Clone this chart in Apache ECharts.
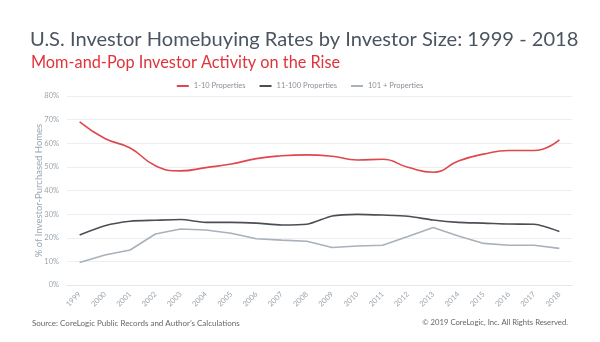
<!DOCTYPE html>
<html><head><meta charset="utf-8">
<script src="https://cdn.jsdelivr.net/npm/echarts@6/dist/echarts.min.js"></script>
<style>html,body{margin:0;padding:0;background:#fff}#c{width:600px;height:342px}</style>
</head><body><div id="c"></div>
<script>
const years = ['1999','2000','2001','2002','2003','2004','2005','2006','2007','2008','2009','2010','2011','2012','2013','2014','2015','2016','2017','2018'];
const small = [69, 62, 58, 50.5, 48.3, 49.7, 51.2, 53.5, 54.7, 55.1, 54.5, 52.9, 53.2, 49.8, 47.7, 52.5, 55.4, 56.9, 56.9, 61.4];
const mid = [21.2, 25.1, 27, 27.4, 27.7, 26.5, 26.5, 26.2, 25.4, 25.7, 29.2, 29.9, 29.6, 29.1, 27.5, 26.5, 26.2, 25.8, 25.7, 22.6];
const large = [9.5, 12.7, 14.8, 21.6, 23.7, 23.3, 21.9, 19.6, 19, 18.5, 15.9, 16.5, 16.8, 20.5, 24.3, 20.7, 17.6, 16.8, 16.8, 15.5];
const names = ['1-10 Properties', '11-100 Properties', '101 + Properties'];
const yTicks = [0, 10, 20, 30, 40, 50, 60, 70, 80];

const FONT = 'Lato, "Open Sans", sans-serif';
const chart = echarts.init(document.getElementById('c'));
chart.setOption({
  animation: false,
  textStyle: {fontFamily: FONT},
  title: [
    {text: 'U.S. Investor Homebuying Rates by Investor Size: 1999 - 2018', left: 25, top: 25,
     textStyle: {fontSize: 20.1, fontWeight: 'normal', color: '#4b5560', fontFamily: FONT}},
    {text: 'Mom-and-Pop Investor Activity on the Rise', left: 26, top: 50,
     textStyle: {fontSize: 16.3, fontWeight: 'normal', color: '#e0333b', fontFamily: FONT}},
    {text: 'Source: CoreLogic Public Records and Author\u2019s Calculations', left: 27, top: 314,
     textStyle: {fontSize: 8, fontWeight: 'normal', color: '#666', fontFamily: FONT}},
    {text: '\u00a9 2019 CoreLogic, Inc. All Rights Reserved.', right: 27, top: 314,
     textStyle: {fontSize: 7.7, fontWeight: 'normal', color: '#666', fontFamily: FONT}}
  ],
  legend: {
    top: 77, left: 'center', itemWidth: 12, itemHeight: 2, itemGap: 14,
    icon: 'rect',
    textStyle: {fontSize: 7.5, color: '#8a8f96', fontFamily: FONT},
    data: names
  },
  grid: {left: 67, right: 28, top: 96, bottom: 57},
  xAxis: {
    type: 'category', data: years, boundaryGap: true,
    axisLine: {lineStyle: {color: '#e4e7ea'}},
    axisTick: {show: false},
    axisLabel: {rotate: 45, fontSize: 7.5, color: '#9aa4ae', margin: 8, interval: 0}
  },
  yAxis: {
    type: 'value', min: 0, max: 80, interval: 10,
    name: '% of Investor-Purchased Homes', nameLocation: 'middle', nameGap: 23,
    nameMoveOverlap: false,
    nameTextStyle: {fontSize: 9.5, color: '#9aa6b2', fontFamily: FONT},
    axisLine: {show: false}, axisTick: {show: false},
    axisLabel: {fontSize: 7.5, color: '#9aa4ae', margin: 8, formatter: v => yTicks.includes(v) ? v + '%' : ''},
    splitLine: {lineStyle: {color: '#eceef0', width: 1}}
  },
  series: [
    {name: names[0], type: 'line', data: small, smooth: 0.5, symbol: 'none',
     lineStyle: {color: '#e0474c', width: 1.6}, itemStyle: {color: '#e0474c'}},
    {name: names[1], type: 'line', data: mid, smooth: 0.25, symbol: 'none',
     lineStyle: {color: '#4a4f55', width: 1.6}, itemStyle: {color: '#4a4f55'}},
    {name: names[2], type: 'line', data: large, smooth: 0, symbol: 'none',
     lineStyle: {color: '#a9b1bb', width: 1.6}, itemStyle: {color: '#a9b1bb'}}
  ]
});
</script></body></html>
